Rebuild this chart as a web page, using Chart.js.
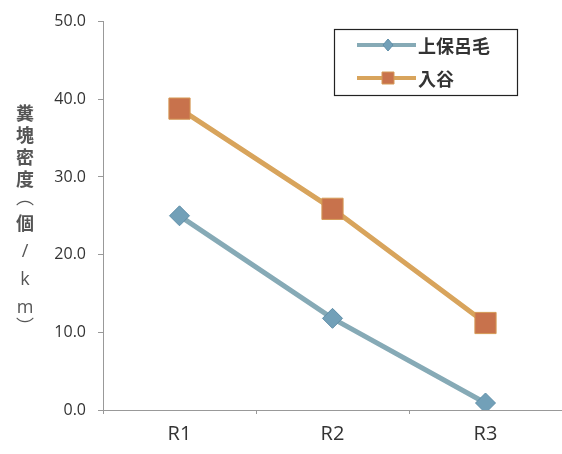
<!DOCTYPE html>
<html>
<head>
<meta charset="utf-8">
<script src="https://cdn.jsdelivr.net/npm/chart.js@4/dist/chart.umd.min.js"></script>
<style>
  html, body { margin: 0; padding: 0; background: #fff; }
  #wrap { position: relative; width: 562px; height: 454px; }
  #c { position: absolute; left: 0; top: 0; }
  #ytitle span {
    position: absolute; left: 25px; transform: translate(-50%, -50%);
    font-family: "Noto Sans CJK JP", "Noto Sans", sans-serif; font-weight: bold;
    font-size: 18px; color: #555; line-height: 1;
  }
</style>
</head>
<body>
<div id="wrap">
  <canvas id="c" width="562" height="454"></canvas>
  <div id="ytitle"></div>
</div>
<script>
const categories = ["R1", "R2", "R3"];
const seriesNames = ["上保呂毛", "入谷"];
const kamihoroge = [25.0, 11.8, 0.9];
const iriya = [38.8, 25.9, 11.2];
const yTicks = [0, 10, 20, 30, 40, 50];
const yTitleChars = ["糞", "塊", "密", "度", "︵", "個", "/", "k", "m", "︶"];
const yTitleY = [112, 134, 156, 178, 196, 222, 250, 278, 306, 325];

// y-axis title as stacked vertical text
const yt = document.getElementById('ytitle');
yTitleChars.forEach((ch, i) => {
  const s = document.createElement('span');
  s.textContent = ch;
  s.style.top = yTitleY[i] + 'px';
  if (ch === '︵' || ch === '︶') { s.style.fontWeight = 'normal'; }
  if (ch === 'k' || ch === 'm' || ch === '/') { s.style.fontWeight = 'normal'; s.style.fontFamily = '"Open Sans", sans-serif'; }
  yt.appendChild(s);
});

const boxLegend = {
  id: 'boxLegend',
  afterDraw(chart) {
    const ctx = chart.ctx;
    ctx.save();
    ctx.strokeStyle = '#222';
    ctx.lineWidth = 1.2;
    ctx.strokeRect(334.5, 29.5, 183, 66);
    const rows = [45, 78];
    chart.data.datasets.forEach((ds, i) => {
      const y = rows[i];
      ctx.strokeStyle = ds.borderColor;
      ctx.lineWidth = 4;
      ctx.beginPath(); ctx.moveTo(357, y); ctx.lineTo(416, y); ctx.stroke();
      ctx.fillStyle = ds.pointBackgroundColor;
      ctx.strokeStyle = ds.pointBorderColor;
      ctx.lineWidth = 1;
      const cx = 388;
      ctx.beginPath();
      if (ds.pointStyle === 'rectRot') {
        ctx.moveTo(cx, y - 6); ctx.lineTo(cx + 5, y); ctx.lineTo(cx, y + 6); ctx.lineTo(cx - 5, y); ctx.closePath();
      } else {
        ctx.rect(cx - 6, y - 6, 12, 12);
      }
      ctx.fill(); ctx.stroke();
      ctx.fillStyle = '#333';
      ctx.font = 'bold 18px "Noto Sans CJK JP", sans-serif';
      ctx.textBaseline = 'middle';
      ctx.textAlign = 'left';
      ctx.fillText(ds.label, 418, y + 1);
    });
    ctx.restore();
  }
};

new Chart(document.getElementById('c'), {
  type: 'line',
  data: {
    labels: categories,
    datasets: [
      {
        label: seriesNames[0], data: kamihoroge,
        borderColor: '#86aab6', borderWidth: 5,
        pointStyle: 'rectRot', pointRadius: 10, pointHoverRadius: 10,
        pointBackgroundColor: '#72a0b8', pointBorderColor: '#5f8ea8', pointBorderWidth: 1
      },
      {
        label: seriesNames[1], data: iriya,
        borderColor: '#d8a45c', borderWidth: 5,
        pointStyle: 'rect', pointRadius: 15, pointHoverRadius: 15,
        pointBackgroundColor: '#c8724c', pointBorderColor: '#d69a56', pointBorderWidth: 1
      }
    ]
  },
  options: {
    responsive: false,
    animation: false,
    layout: { autoPadding: false, padding: { left: 0, top: 20, right: -4, bottom: 0 } },
    plugins: { legend: { display: false }, tooltip: { enabled: false } },
    scales: {
      x: {
        offset: true,
        grid: { display: true, offset: true, drawOnChartArea: false, drawTicks: true, tickLength: 4, color: '#999' },
        border: { display: true, color: '#999', width: 1 },
        ticks: { color: '#333', font: { family: '"Open Sans", sans-serif', size: 20 }, padding: 8 },
        afterFit(s) { s.height = 44; }
      },
      y: {
        min: 0, max: 50,
        afterBuildTicks(s) { s.ticks = yTicks.map(v => ({ value: v })); },
        grid: { display: true, drawOnChartArea: false, drawTicks: true, tickLength: 5, color: '#999' },
        border: { display: true, color: '#999', width: 1 },
        ticks: {
          color: '#333', padding: 12,
          font: { family: '"Open Sans", sans-serif', size: 16 },
          callback: v => Number(v).toFixed(1)
        },
        afterFit(s) { s.width = 103; }
      }
    }
  },
  plugins: [boxLegend]
});
</script>
</body>
</html>
